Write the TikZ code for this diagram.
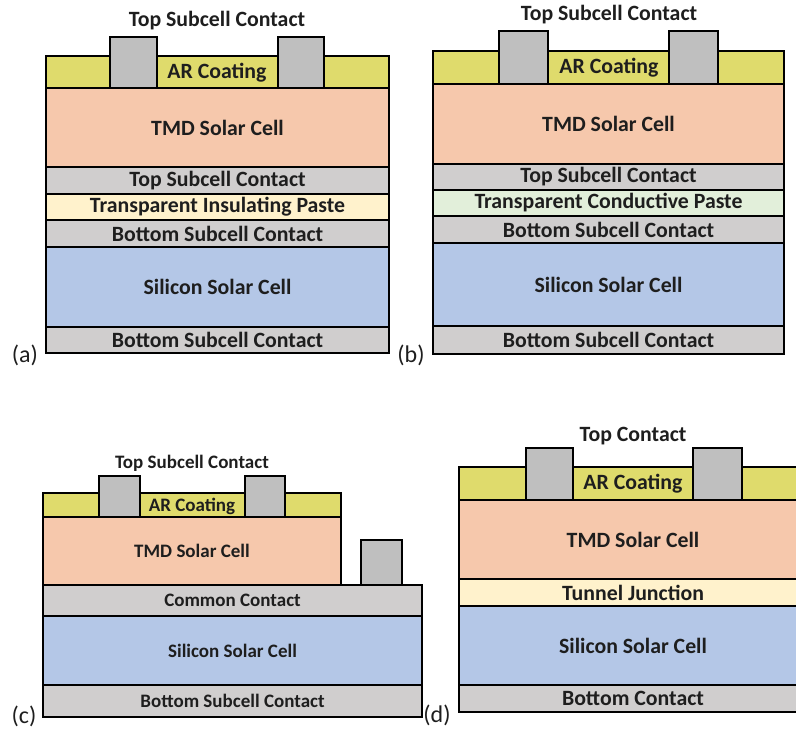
\documentclass[tikz,border=0pt]{standalone}
\usepackage{fontspec}
\setmainfont{Carlito}
\definecolor{arc}{RGB}{223,219,108}
\definecolor{tmd}{RGB}{246,200,172}
\definecolor{cont}{RGB}{208,206,206}
\definecolor{metal}{RGB}{191,191,191}
\definecolor{insul}{RGB}{255,242,204}
\definecolor{cond}{RGB}{226,239,218}
\definecolor{sil}{RGB}{180,199,231}
\definecolor{txt}{RGB}{30,30,30}
\tikzset{
  big/.style={font=\bfseries\fontsize{21.8}{21.8}\selectfont},
  small/.style={font=\bfseries\fontsize{19}{19}\selectfont},
  layer/.style={draw=black, line width=2.2pt, rectangle, inner sep=0pt,
    text=txt, big},
  title/.style={inner sep=0pt, text=txt, big},
  tag/.style={inner sep=0pt, text=txt, font=\fontsize{24}{24}\selectfont},
}
% layer given by its corners: name, style, x1, y1, x2, y2, text
\newcommand\layernode[7]{%
  \node[layer,#2,minimum width={(#5-#3)*1pt},minimum height={(#6-#4)*1pt}]
    (#1) at ({(#3+#5)/2},{(#4+#6)/2}) {#7};}
\begin{document}
\begin{tikzpicture}[x=1pt,y=-1pt]
\useasboundingbox (0,0) rectangle (796,730);
\clip (0,0) rectangle (796,730);

% (a) mechanically stacked, insulating paste
\layernode{aAR}{fill=arc}{46}{56}{389}{88}{}
\node[title] (aARt) at (217,73) {AR Coating};
\layernode{aTMD}{fill=tmd}{46}{88}{389}{167}{TMD Solar Cell}
\layernode{aC1}{fill=metal}{110}{37}{157}{88}{}
\layernode{aC2}{fill=metal}{278}{37}{324}{88}{}
\layernode{aTC}{fill=cont}{46}{167}{389}{194}{Top Subcell Contact}
\layernode{aP}{fill=insul}{46}{194}{389}{220}{Transparent Insulating Paste}
\layernode{aBC}{fill=cont}{46}{220}{389}{247}{Bottom Subcell Contact}
\layernode{aSi}{fill=sil}{46}{247}{389}{327}{Silicon Solar Cell}
\layernode{aB}{fill=cont}{46}{327}{389}{353}{Bottom Subcell Contact}
\node[title] (aT) at (217,21) {Top Subcell Contact};
\node[tag] (aL) at (25,355) {(a)};

% (b) mechanically stacked, conductive paste
\layernode{bAR}{fill=arc}{433}{51}{784}{84}{}
\node[title] (bARt) at (609,68) {AR Coating};
\layernode{bTMD}{fill=tmd}{433}{84}{784}{164}{TMD Solar Cell}
\layernode{bC1}{fill=metal}{499}{31}{548}{84}{}
\layernode{bC2}{fill=metal}{669}{31}{718}{84}{}
\layernode{bTC}{fill=cont}{433}{164}{784}{190}{Top Subcell Contact}
\layernode{bP}{fill=cond}{433}{190}{784}{216}{Transparent Conductive Paste}
\layernode{bBC}{fill=cont}{433}{216}{784}{243}{Bottom Subcell Contact}
\layernode{bSi}{fill=sil}{433}{243}{784}{326}{Silicon Solar Cell}
\layernode{bB}{fill=cont}{433}{326}{784}{354}{Bottom Subcell Contact}
\node[title] (bT) at (609,15) {Top Subcell Contact};
\node[tag] (bL) at (411,355) {(b)};

% (c) three-terminal with common contact
\layernode{cAR}{fill=arc}{43}{493}{341}{517}{}
\node[title,small] (cARt) at (192,506) {AR Coating};
\layernode{cTMD}{fill=tmd,small}{43}{517}{341}{585}{TMD Solar Cell}
\layernode{cC1}{fill=metal}{99}{476}{140}{517}{}
\layernode{cC2}{fill=metal}{245}{476}{285}{517}{}
\layernode{cC3}{fill=metal}{361}{540}{402}{585}{}
\layernode{cCC}{fill=cont,small}{43}{585}{422}{616}{Common Contact}
\layernode{cSi}{fill=sil,small}{43}{616}{422}{685}{Silicon Solar Cell}
\layernode{cB}{fill=cont,small}{43}{685}{422}{717}{Bottom Subcell Contact}
\node[title,small] (cT) at (192,463) {Top Subcell Contact};
\node[tag] (cL) at (24,716) {(c)};

% (d) monolithic with tunnel junction
\layernode{dAR}{fill=arc}{459}{467}{807}{500}{}
\node[title] (dARt) at (633,484) {AR Coating};
\layernode{dTMD}{fill=tmd}{459}{500}{807}{579}{TMD Solar Cell}
\layernode{dC1}{fill=metal}{526}{448}{573}{500}{}
\layernode{dC2}{fill=metal}{693}{448}{742}{500}{}
\layernode{dTJ}{fill=insul}{459}{579}{807}{606}{Tunnel Junction}
\layernode{dSi}{fill=sil}{459}{606}{807}{685}{Silicon Solar Cell}
\layernode{dB}{fill=cont}{459}{685}{807}{712}{Bottom Contact}
\node[title] (dT) at (633,436) {Top Contact};
\node[tag] (dL) at (437,715) {(d)};
\end{tikzpicture}
\end{document}
